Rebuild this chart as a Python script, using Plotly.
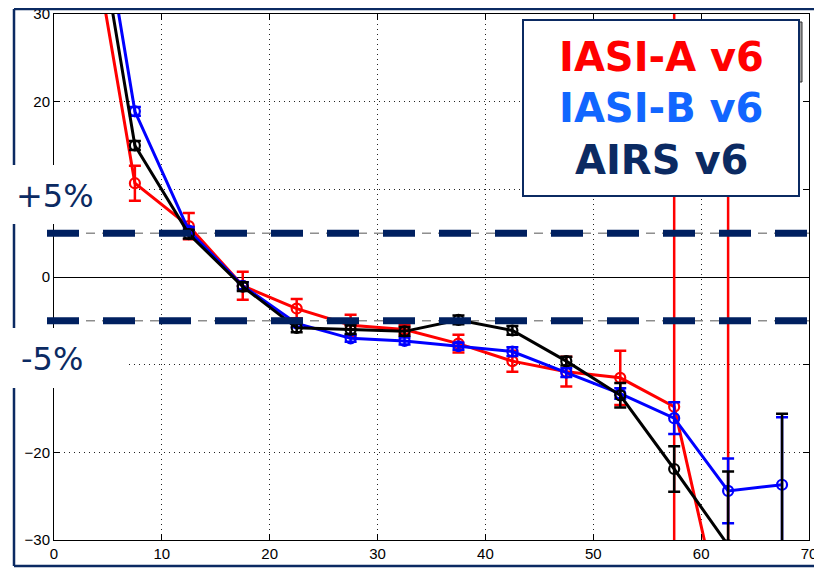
import plotly.graph_objects as go

# ---------------- data ----------------
x_bins = [2.5, 7.5, 12.5, 17.5, 22.5, 27.5, 32.5, 37.5, 42.5, 47.5, 52.5, 57.5, 62.5, 67.5]

iasi_a = [46.6, 10.7, 5.8, -1.0, -3.6, -5.5, -6.0, -7.6, -9.6, -10.8, -11.5, -14.8, -42.0, None]
iasi_a_err = [1.0, 2.0, 1.5, 1.6, 1.1, 1.2, 0.5, 1.0, 1.2, 1.7, 3.1, 60.0, 60.0, None]

iasi_b = [55.9, 18.9, 5.3, -1.0, -5.3, -7.0, -7.3, -7.9, -8.5, -10.9, -13.3, -16.1, -24.4, -23.7]
iasi_b_err = [1.0, 0.5, 0.4, 0.4, 0.4, 0.4, 0.4, 0.4, 0.5, 0.5, 0.6, 1.8, 3.7, 7.7]

airs = [51.8, 15.0, 4.9, -1.1, -5.8, -6.0, -6.2, -4.9, -6.1, -9.6, -13.5, -21.9, -30.6, -40.0]
airs_err = [1.0, 0.5, 0.5, 0.5, 0.5, 0.5, 0.5, 0.5, 0.5, 0.5, 1.4, 2.6, 8.4, 24.4]

x_ticks = [0, 10, 20, 30, 40, 50, 60, 70]
y_ticks = [-30, -20, -10, 0, 10, 20, 30]
# labels for -10 and 10 are hidden under the "+5%" / "-5%" boxes in the original
y_ticktext = ["\u221230", "\u221220", "", "0", "", "20", "30"]
x_range = [0, 70]
y_range = [-30, 30]
limit_levels = [5, -5]
limit_labels = ["+5%", "-5%"]
legend_names = ["IASI-A v6", "IASI-B v6", "AIRS v6"]

NAVY = "#0B2A62"
# the page body has an 8px margin, so the figure is drawn 8px smaller
OFF = 8
W, H = 822 - OFF, 570 - OFF
PL, PR, PT, PB = 54, 809, 14, 540        # plot area in window pixels
PW, PH = PR - PL, PB - PT


def px(xp):
    return (xp - PL) / PW


def py(yp):
    return (PB - yp) / PH


fig = go.Figure()

series = [
    (iasi_a, iasi_a_err, "#FF0000"),
    (iasi_b, iasi_b_err, "#0000FF"),
    (airs, airs_err, "#000000"),
]
for name, (vals, errs, col) in zip(legend_names, series):
    fig.add_trace(go.Scatter(
        x=x_bins, y=vals, name=name, mode="lines+markers",
        line=dict(color=col, width=3),
        marker=dict(symbol="circle-open", size=10, color=col, line=dict(width=2.2, color=col)),
        error_y=dict(type="data", array=errs, visible=True, color=col, thickness=2.5, width=6),
        showlegend=False,
    ))

shapes = []
# outer navy frame (slide border)
shapes.append(dict(type="line", xref="paper", yref="paper", x0=px(14), x1=px(830), y0=py(9), y1=py(9),
                   line=dict(color=NAVY, width=2.5), layer="above"))
shapes.append(dict(type="line", xref="paper", yref="paper", x0=px(14), x1=px(14), y0=py(9), y1=py(566),
                   line=dict(color=NAVY, width=2.5), layer="above"))
shapes.append(dict(type="line", xref="paper", yref="paper", x0=px(14), x1=px(830), y0=py(566), y1=py(566),
                   line=dict(color=NAVY, width=2.5), layer="above"))

for lv in limit_levels:
    shapes.append(dict(type="line", xref="paper", yref="y", x0=0, x1=1, y0=lv, y1=lv,
                       line=dict(color="#555555", width=1, dash="9px,7px"), layer="below"))
    shapes.append(dict(type="line", xref="paper", yref="y", x0=px(47), x1=px(808), y0=lv, y1=lv,
                       line=dict(color="#002060", width=7, dash="32px,24px"), layer="above"))

# white boxes behind the +5% / -5% labels
shapes.append(dict(type="rect", xref="paper", yref="paper", x0=px(8), x1=px(128), y0=py(165), y1=py(224),
                   fillcolor="white", line=dict(width=0), layer="above"))
shapes.append(dict(type="rect", xref="paper", yref="paper", x0=px(8), x1=px(128), y0=py(328), y1=py(388),
                   fillcolor="white", line=dict(width=0), layer="above"))

# legend box with shadow edge
shapes.append(dict(type="rect", xref="paper", yref="paper", x0=px(797), x1=px(802), y0=py(22), y1=py(82),
                   fillcolor="#A0A0A0", line=dict(color="#333333", width=1), layer="above"))
shapes.append(dict(type="rect", xref="paper", yref="paper", x0=px(523), x1=px(799), y0=py(20), y1=py(196),
                   fillcolor="white", line=dict(color=NAVY, width=2), layer="above"))

annotations = []
label_pos = [(55, 196), (52, 359)]
for lab, (lx, ly) in zip(limit_labels, label_pos):
    annotations.append(dict(text=lab, xref="paper", yref="paper", x=px(lx), y=py(ly),
                            xanchor="center", yanchor="middle", showarrow=False,
                            font=dict(family="DejaVu Sans", size=32, color=NAVY)))

legend_colors = ["#FF0000", "#1166FF", "#0B2A62"]
legend_y = [57, 108, 160]
for name, col, ly in zip(legend_names, legend_colors, legend_y):
    annotations.append(dict(text="<b>" + name + "</b>", xref="paper", yref="paper", x=px(661), y=py(ly),
                            xanchor="center", yanchor="middle", showarrow=False,
                            font=dict(family="DejaVu Sans", size=40, color=col)))

axis_common = dict(
    showline=True, linecolor="black", linewidth=1, mirror="ticks",
    ticks="inside", ticklen=6, tickcolor="black", tickwidth=1,
    showgrid=True, gridcolor="#222222", gridwidth=1, griddash="1px,4px",
    tickfont=dict(family="Liberation Sans", size=15, color="black"),
    automargin=False, ticklabeloverflow="allow",
)

fig.update_xaxes(range=x_range, tickvals=x_ticks, zeroline=False, **axis_common)
fig.update_yaxes(range=y_range, tickvals=y_ticks, ticktext=y_ticktext,
                 zeroline=True, zerolinecolor="black", zerolinewidth=1, **axis_common)

fig.update_layout(
    width=W, height=H,
    margin=dict(l=PL - OFF, r=W - (PR - OFF), t=PT - OFF, b=H - (PB - OFF), autoexpand=False),
    paper_bgcolor="white", plot_bgcolor="white",
    shapes=shapes, annotations=annotations,
    showlegend=False,
)

fig.write_html("out.html")
